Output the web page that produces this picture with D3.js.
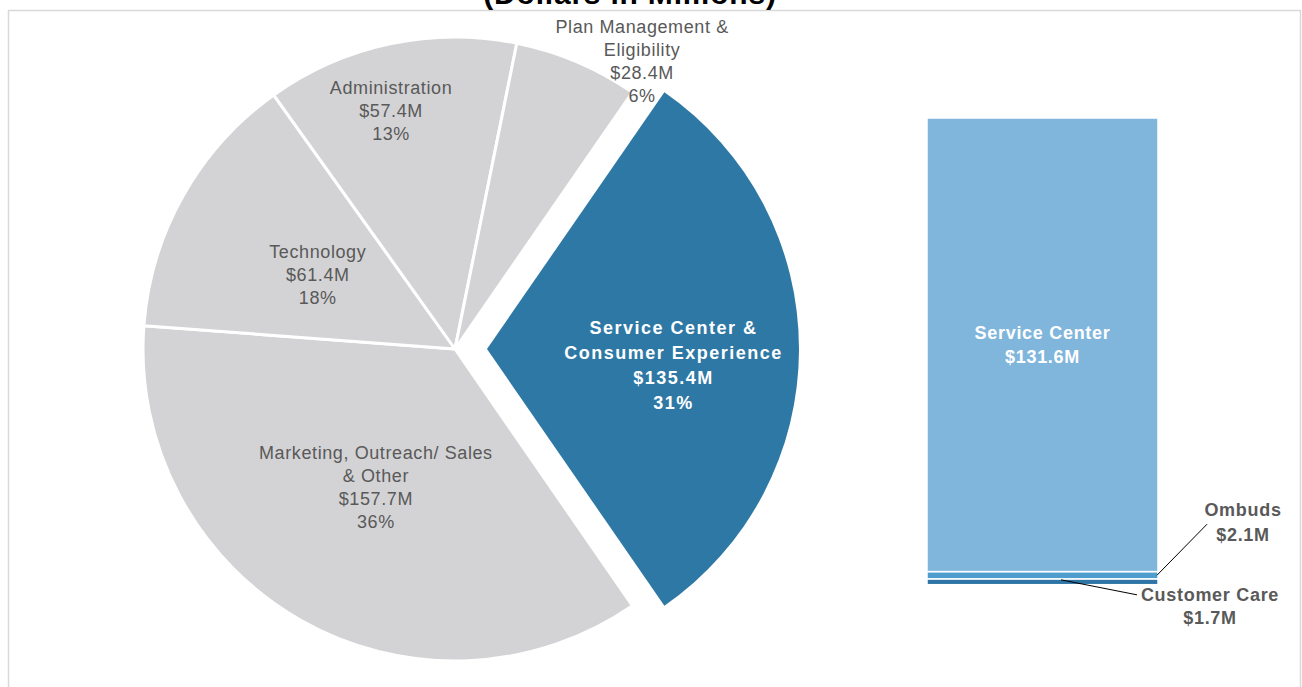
<!DOCTYPE html>
<html>
<head>
<meta charset="utf-8">
<script src="https://cdn.jsdelivr.net/npm/d3@7"></script>
<style>
  html, body { margin: 0; padding: 0; background: #fff; }
  svg { display: block; font-family: "Liberation Sans", Arial, sans-serif; }
</style>
</head>
<body>
<svg id="chart"></svg>
<script>
// pie slices, in drawing order (clockwise from the exploded slice)
const pieNames = ["Service Center & Consumer Experience", "Marketing, Outreach/ Sales & Other", "Technology", "Administration", "Plan Management & Eligibility"];
const pieLines = [["Service Center &", "Consumer Experience"], ["Marketing, Outreach/ Sales", "& Other"], ["Technology"], ["Administration"], ["Plan Management &", "Eligibility"]];
const pieValues = [135.4, 157.7, 61.4, 57.4, 28.4];
const piePct = ["31%", "36%", "18%", "13%", "6%"];

// breakdown bar, stacked bottom -> top
const barNames = ["Customer Care", "Ombuds", "Service Center"];
const barValues = [1.7, 2.1, 131.6];

const W = 1302, H = 687;
const svg = d3.select("#chart").attr("width", W).attr("height", H);

svg.append("rect")
  .attr("x", 8.5).attr("y", 10.5)
  .attr("width", 1292).attr("height", 720)
  .attr("fill", "none").attr("stroke", "#d9d9d9").attr("stroke-width", 1.5);

svg.append("text")
  .attr("x", 630).attr("y", 4)
  .attr("text-anchor", "middle")
  .attr("font-size", 30).attr("font-weight", "bold")
  .attr("letter-spacing", 0.8)
  .attr("fill", "#000")
  .text("(Dollars in Millions)");

// ---- pie ----
const cx = 455, cy = 349, R = 312, explode = 32;
const total = d3.sum(pieValues);
const start = Math.PI / 2 - Math.PI * pieValues[0] / total;

const data = pieNames.map((n, i) => ({ name: n, lines: pieLines[i], value: pieValues[i], pct: piePct[i] }));
const pie = d3.pie().sort(null).value(d => d.value).startAngle(start).endAngle(start + 2 * Math.PI);
const arcs = pie(data);
const arc = d3.arc().innerRadius(0).outerRadius(R);

// label placement: radius fraction and angle shift (deg)
const labelPos = { 0: [0.6, 5], 1: [0.51, 0], 2: [0.5, -1], 3: [0.79, -3], 4: [1.1, 10] };

const g = svg.append("g").attr("transform", `translate(${cx},${cy})`);

const slices = g.selectAll("g.slice")
  .data(arcs)
  .enter()
  .append("g")
  .attr("class", "slice")
  .attr("transform", (d, i) => {
    if (i !== 0) return null;
    const m = (d.startAngle + d.endAngle) / 2;
    return `translate(${Math.sin(m) * explode},${-Math.cos(m) * explode})`;
  });

slices.append("path")
  .attr("d", arc)
  .attr("fill", (d, i) => i === 0 ? "#2e78a5" : "#d3d3d5")
  .attr("stroke", "#fff")
  .attr("stroke-width", (d, i) => i === 0 ? 0 : 3)
  .attr("stroke-linejoin", "round");

slices.each(function(d, i) {
  const [rf, da] = labelPos[i];
  const m = (d.startAngle + d.endAngle) / 2 + da * Math.PI / 180;
  const lx = Math.sin(m) * R * rf, ly = -Math.cos(m) * R * rf;
  const lines = d.data.lines.concat(["$" + d.data.value.toFixed(1) + "M", d.data.pct]);
  const bold = i === 0;
  const lh = bold ? 25 : 23;
  const t = d3.select(this).append("text")
    .attr("text-anchor", "middle")
    .attr("font-size", 18)
    .attr("font-weight", bold ? "bold" : "normal")
    .attr("letter-spacing", bold ? 1.5 : 0.6)
    .attr("fill", bold ? "#fff" : "#595959");
  lines.forEach((s, k) => {
    t.append("tspan")
      .attr("x", lx)
      .attr("y", ly + (k - (lines.length - 1) / 2) * lh)
      .attr("dy", "0.35em")
      .text(s);
  });
});

// ---- stacked bar ----
const x = d3.scaleBand().domain(["Breakdown"]).range([927, 1158]).padding(0);
const y = d3.scaleLinear().domain([0, d3.sum(barValues)]).range([584.7, 118]);
const stacked = [];
let acc = 0;
barNames.forEach((n, i) => { stacked.push({ name: n, value: barValues[i], y0: acc, y1: acc + barValues[i] }); acc += barValues[i]; });
const barColor = d3.scaleOrdinal().domain(barNames).range(["#2e75a6", "#4e9dcf", "#80b6dc"]);

svg.selectAll("rect.seg")
  .data(stacked)
  .enter()
  .append("rect")
  .attr("class", "seg")
  .attr("x", x("Breakdown"))
  .attr("width", x.bandwidth())
  .attr("y", d => y(d.y1))
  .attr("height", d => y(d.y0) - y(d.y1))
  .attr("fill", d => barColor(d.name))
  .attr("stroke", "#fff")
  .attr("stroke-width", 1.5);

function block(xp, yp, lines, fill, lh) {
  const t = svg.append("text")
    .attr("text-anchor", "middle")
    .attr("font-size", 18).attr("font-weight", "bold")
    .attr("letter-spacing", 0.7)
    .attr("fill", fill);
  lines.forEach((s, k) => {
    t.append("tspan").attr("x", xp)
      .attr("y", yp + (k - (lines.length - 1) / 2) * lh)
      .attr("dy", "0.35em").text(s);
  });
}

const xMid = x("Breakdown") + x.bandwidth() / 2, xR = x("Breakdown") + x.bandwidth();
const sc = stacked[2], om = stacked[1], cc = stacked[0];
block(xMid, (y(sc.y0) + y(sc.y1)) / 2, [sc.name, "$" + sc.value.toFixed(1) + "M"], "#fff", 24);

// leader lines
const omY = (y(om.y0) + y(om.y1)) / 2;
svg.append("line").attr("x1", xR - 1).attr("y1", omY).attr("x2", xR + 49).attr("y2", omY - 51)
  .attr("stroke", "#000").attr("stroke-width", 1);
block(xR + 85, omY - 53, [om.name, "$" + om.value.toFixed(1) + "M"], "#595959", 25);

const ccY = y(cc.y1) + 1;
svg.append("line").attr("x1", xR - 97).attr("y1", ccY).attr("x2", xR - 21).attr("y2", ccY + 15)
  .attr("stroke", "#000").attr("stroke-width", 1);
block(xR + 52, ccY + 26, [cc.name, "$" + cc.value.toFixed(1) + "M"], "#595959", 23);
</script>
</body>
</html>
